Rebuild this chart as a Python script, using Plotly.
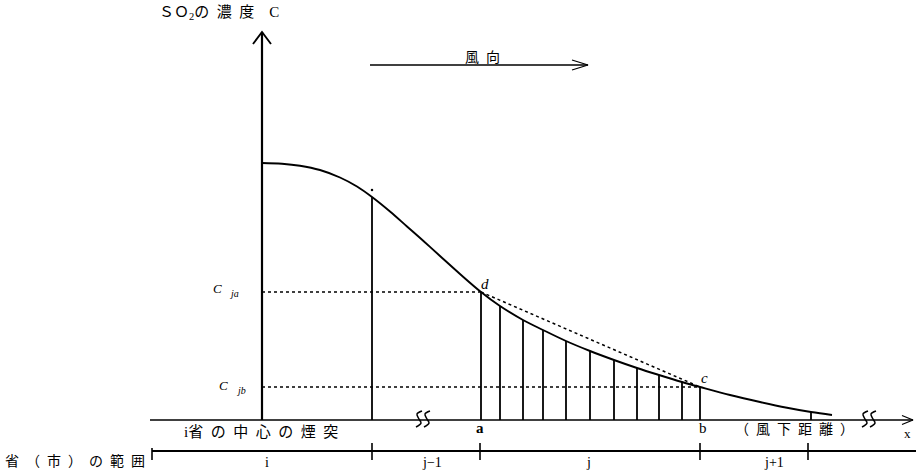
import plotly.graph_objects as go

# Downwind distance from the stack (x) and SO2 concentration C along the plume
dist = [0, 20, 38, 58, 78, 95, 110, 128, 145, 162, 178, 198, 219, 238, 261, 281, 304, 328,
        352, 375, 397, 420, 438, 468, 498, 525, 549, 570]
conc = [257, 256.3, 254.3, 250, 242.5, 233.5, 223, 208.5, 193.5, 178.5, 164, 146, 128, 114,
        100, 90, 79, 69, 60, 52, 45, 38, 33, 25, 18, 12.3, 8, 5]

# indices of the curve points that get a vertical line down to the axis
boundary_idx = [6]                 # border between i and j-1
strip_idx = list(range(12, 23))    # a ... b, the slices inside region j
tick_idx = [26]                    # small marker inside j+1
A_IDX, B_IDX = 12, 22              # points d and c

# province (city) ranges along the bottom scale
range_edges = [-110, 110, 218, 438, 546]
range_labels = ["i", "j\u22121", "j", "j+1"]
range_label_x = [5, 170, 326, 512]

# axis-break marks on the x axis
breaks = [161, 607]

SERIF = "Liberation Serif, Noto Sans CJK JP"
CJK = "Liberation Serif, Noto Sans CJK JP"
BLACK = "#000000"


def spaced(s, sep="\u2002"):
    return sep.join(s)


fig = go.Figure()


def add_line(xs, ys, width=2.0, dash="solid", shape="linear"):
    fig.add_trace(go.Scatter(x=xs, y=ys, mode="lines", hoverinfo="skip",
                             line=dict(color=BLACK, width=width, dash=dash, shape=shape),
                             showlegend=False))


def add_arrow(x0, y0, x1, y1, head_len, head_half, width=2.0):
    add_line([x0, x1], [y0, y1], width=width)
    dx, dy = x1 - x0, y1 - y0
    n = (dx * dx + dy * dy) ** 0.5
    ux, uy = dx / n, dy / n
    bx, by = x1 - ux * head_len, y1 - uy * head_len
    px, py = -uy * head_half, ux * head_half
    add_line([bx + px, x1, bx - px], [by + py, y1, by - py], width=width - 0.3)


# concentration axis and downwind axis
add_arrow(0, 0, 0, 388, 12, 9, width=2.2)
add_arrow(-112, 0, 651, 0, 11, 4.5, width=1.6)

# wind direction arrow
add_arrow(108, 355, 326, 355, 16, 5, width=1.6)

# concentration curve
fig.add_trace(go.Scatter(x=dist, y=conc, mode="lines", hoverinfo="skip",
                         line=dict(color=BLACK, width=1.9, shape="spline", smoothing=1.0),
                         showlegend=False))

# vertical lines from the axis up to the curve
vx, vy = [], []
for i in boundary_idx + strip_idx + tick_idx:
    vx += [dist[i], dist[i], None]
    vy += [0, conc[i], None]
add_line(vx, vy, width=1.8)

# dotted reference levels C_ja, C_jb and the chord d-c
c_ja, c_jb = conc[A_IDX], conc[B_IDX]
add_line([0, dist[A_IDX]], [c_ja, c_ja], width=1.5, dash="dot")
add_line([0, dist[B_IDX]], [c_jb, c_jb], width=1.5, dash="dot")
add_line([dist[A_IDX], dist[B_IDX]], [c_ja, c_jb], width=1.5, dash="dot")

# stray dot above the j-1 boundary line
fig.add_trace(go.Scatter(x=[dist[6]], y=[conc[6] + 7], mode="markers", hoverinfo="skip",
                         marker=dict(color=BLACK, size=2.5), showlegend=False))

# axis-break marks
s_dx = [3, -2, 0, 2, -3]
s_dy = [8, 5, 0, -4, -8]
for bxp in breaks:
    for off in (-4, 4):
        add_line([bxp + off + d for d in s_dx], [1 + d for d in s_dy], width=1.5, shape="spline")

# province range scale
range_y = -31
add_line([range_edges[0], 654], [range_y, range_y], width=2.0)
tx, ty = [], []
for e in range_edges:
    top = range_y + 3 if e == range_edges[0] else range_y + 8
    tx += [e, e, None]
    ty += [top, range_y - 9, None]
add_line(tx, ty, width=1.6)

annotations = []


def label(x, y, text, size=14, family=SERIF, xanchor="center"):
    annotations.append(dict(x=x, y=y, xref="x", yref="y", text=text, showarrow=False,
                            xanchor=xanchor, yanchor="middle",
                            font=dict(family=family, size=size, color=BLACK)))


label(-43, 407, "ＳＯ<sub>2</sub>" + spaced("の濃度") + "\u2002\u2002C", size=15, family=CJK)
label(220, 363, spaced("風向"), size=14, family=CJK)
label(-1, -12, "i" + spaced("省の中心の煙突"), size=15, family=CJK)
label(-262 + 75, -41, spaced("省（市）の範囲"), size=14, family=CJK)
label(532, -9, spaced("（風下距離）"), size=14, family=CJK)
label(dist[A_IDX] - 1, -8, "<b>a</b>", size=15)
label(dist[B_IDX] + 3, -8, "b", size=15)
label(645, -13, "x", size=13)
label(dist[A_IDX] + 4, c_ja + 8, "<i>d</i>", size=15)
label(dist[B_IDX] + 4, c_jb + 9, "<i>c</i>", size=15)
label(-45, c_ja + 4, "<i>C</i>", size=13)
label(-28, c_ja - 1, "<i>ja</i>", size=10)
label(-39, c_jb + 2, "<i>C</i>", size=13)
label(-21, c_jb - 3, "<i>jb</i>", size=10)
for lx, lt in zip(range_label_x, range_labels):
    label(lx, -42, lt, size=14)

fig.update_layout(
    width=916, height=470,
    margin=dict(l=0, r=0, t=0, b=0),
    paper_bgcolor="white", plot_bgcolor="white",
    xaxis=dict(range=[-262, 654], visible=False, fixedrange=True),
    yaxis=dict(range=[-50, 420], visible=False, fixedrange=True),
    annotations=annotations,
    showlegend=False,
)

fig.write_html("out.html")
